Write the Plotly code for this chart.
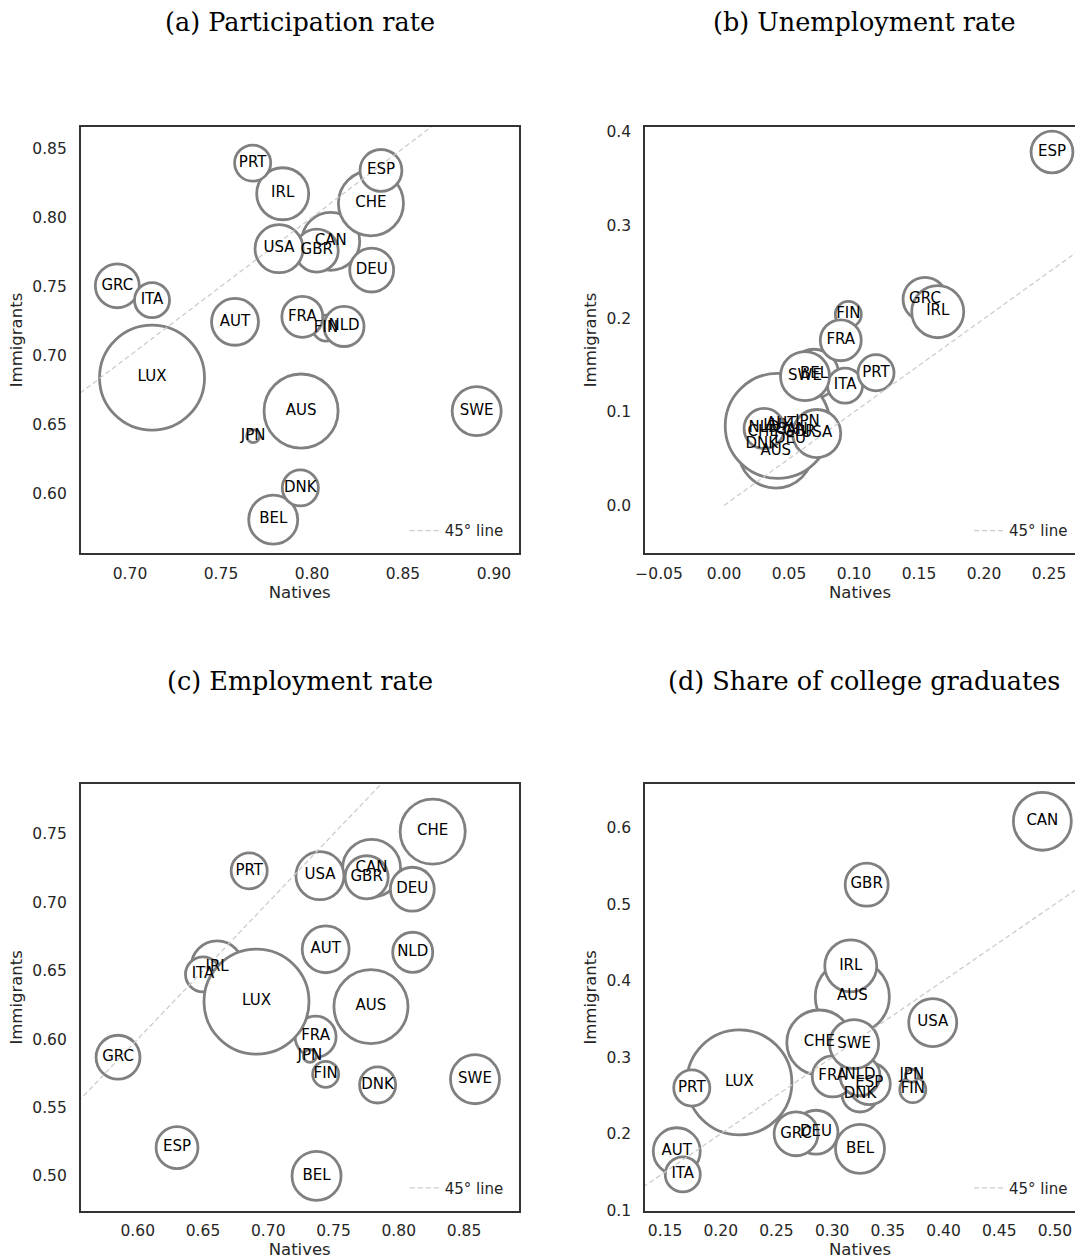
import plotly.graph_objects as go

W, H = 1075, 1259

countries = ["AUS", "AUT", "BEL", "CAN", "CHE", "DEU", "DNK", "ESP", "FIN", "FRA",
             "GBR", "GRC", "IRL", "ITA", "JPN", "LUX", "NLD", "PRT", "SWE", "USA"]

# bubble weight (estimated share of immigrants in population)
immigrant_share = [0.219, 0.088, 0.096, 0.134, 0.169, 0.077, 0.052, 0.070, 0.027, 0.067,
                   0.074, 0.077, 0.108, 0.049, 0.0067, 0.440, 0.064, 0.052, 0.096, 0.092]

# (a) Participation rate
part_natives = [0.794, 0.7577, 0.7787, 0.8103, 0.8324, 0.8328, 0.7936, 0.8379, 0.8077, 0.7947,
                0.8026, 0.6930, 0.7839, 0.7121, 0.7677, 0.7121, 0.8176, 0.7674, 0.8905, 0.7819]
part_immigrants = [0.6596, 0.7243, 0.5809, 0.7826, 0.8102, 0.7618, 0.6039, 0.8340, 0.7197, 0.7279,
                   0.7759, 0.7504, 0.8171, 0.7400, 0.6414, 0.6838, 0.7209, 0.8393, 0.6596, 0.7773]

# (b) Unemployment rate
unemp_natives = [0.0398, 0.0440, 0.0692, 0.0520, 0.0300, 0.0508, 0.0290, 0.2523, 0.0956, 0.0898,
                 0.0580, 0.1546, 0.1644, 0.0931, 0.0642, 0.0413, 0.0308, 0.1169, 0.0623, 0.0713]
unemp_immigrants = [0.0583, 0.0870, 0.1410, 0.0800, 0.0780, 0.0709, 0.0655, 0.3786, 0.2046, 0.1769,
                    0.0780, 0.2208, 0.2075, 0.1284, 0.0892, 0.0852, 0.0824, 0.1421, 0.1385, 0.0770]

# (c) Employment rate
emp_natives = [0.7787, 0.7440, 0.7370, 0.7792, 0.8260, 0.8104, 0.7838, 0.6301, 0.7440, 0.7363,
               0.7754, 0.5849, 0.6608, 0.6500, 0.7319, 0.6910, 0.8107, 0.6854, 0.8584, 0.7396]
emp_immigrants = [0.6238, 0.6657, 0.5000, 0.7249, 0.7517, 0.7096, 0.5665, 0.5207, 0.5743, 0.6018,
                  0.7183, 0.5868, 0.6528, 0.6474, 0.5877, 0.6274, 0.6635, 0.7230, 0.5707, 0.7195]

# (d) Share of college graduates
coll_natives = [0.3181, 0.1605, 0.3250, 0.4887, 0.2885, 0.2855, 0.3250, 0.3334, 0.3724, 0.3005,
                0.3310, 0.2676, 0.3167, 0.1659, 0.3715, 0.2167, 0.3250, 0.1740, 0.3197, 0.3903]
coll_immigrants = [0.3790, 0.1772, 0.1803, 0.6082, 0.3192, 0.2020, 0.2520, 0.2654, 0.2576, 0.2749,
                   0.5254, 0.2000, 0.4194, 0.1469, 0.2758, 0.2671, 0.2758, 0.2598, 0.3171, 0.3452]

titles = ["(a) Participation rate", "(b) Unemployment rate",
          "(c) Employment rate", "(d) Share of college graduates"]

diag = [0, 1]

panels = [
    dict(x=part_natives, y=part_immigrants, xr=[0.6729, 0.9136], yr=[0.5565, 0.8657],
         xt=[0.70, 0.75, 0.80, 0.85, 0.90], yt=[0.60, 0.65, 0.70, 0.75, 0.80, 0.85],
         xf=".2f", yf=".2f", xd=[80.7, 518.7], yd=[126.7, 553.3], right=False),
    dict(x=unemp_natives, y=unemp_immigrants, xr=[-0.0608, 0.2700], yr=[-0.0513, 0.4057],
         xt=[-0.05, 0.0, 0.05, 0.10, 0.15, 0.20, 0.25], yt=[0.0, 0.1, 0.2, 0.3, 0.4],
         xf=".2f", yf=".1f", xd=[645, 1075], yd=[126.7, 553.3], right=True),
    dict(x=emp_natives, y=emp_immigrants, xr=[0.5563, 0.8919], yr=[0.4746, 0.7865],
         xt=[0.60, 0.65, 0.70, 0.75, 0.80, 0.85], yt=[0.50, 0.55, 0.60, 0.65, 0.70, 0.75],
         xf=".2f", yf=".2f", xd=[80.7, 518.7], yd=[784, 1210.7], right=False),
    dict(x=coll_natives, y=coll_immigrants, xr=[0.1320, 0.5180], yr=[0.0995, 0.6569],
         xt=[0.15, 0.20, 0.25, 0.30, 0.35, 0.40, 0.45, 0.50], yt=[0.1, 0.2, 0.3, 0.4, 0.5, 0.6],
         xf=".2f", yf=".1f", xd=[645, 1075], yd=[784, 1210.7], right=True),
]


def px_x(px):
    return px / W


def px_y(py):
    return 1 - py / H


fig = go.Figure()
tick_font = dict(family="DejaVu Sans", size=15.5, color="#262626")
axis_title_font = dict(family="DejaVu Sans", size=16.5, color="#262626")
# plotly area mode: radius = sqrt(v / (2*sizeref)) -> diameter 105px for LUX
sizeref = 2 * 0.440 / 105 ** 2

layout = dict(width=W, height=H, margin=dict(l=0, r=0, t=0, b=0),
              paper_bgcolor="white", plot_bgcolor="white", annotations=[])

for i, p in enumerate(panels):
    n = i + 1
    xa = "x" if n == 1 else f"x{n}"
    ya = "y" if n == 1 else f"y{n}"
    leg = "legend" if n == 1 else f"legend{n}"
    fig.add_trace(go.Scatter(
        x=p["x"], y=p["y"], mode="markers", xaxis=xa, yaxis=ya, showlegend=False,
        marker=dict(size=immigrant_share, sizemode="area", sizeref=sizeref,
                    color="white", opacity=1, line=dict(color="#808080", width=2.8)),
        hoverinfo="skip"))
    fig.add_trace(go.Scatter(
        x=diag, y=diag, mode="lines", xaxis=xa, yaxis=ya, name="45° line",
        line=dict(color="#cccccc", width=1.3, dash="5px,3px"), legend=leg, showlegend=True))
    fig.add_trace(go.Scatter(
        x=p["x"], y=p["y"], mode="text", text=countries, textposition="middle center",
        textfont=dict(family="DejaVu Sans", size=15, color="black"),
        xaxis=xa, yaxis=ya, showlegend=False, hoverinfo="skip"))

    xdom = [px_x(p["xd"][0]), min(1.0, px_x(p["xd"][1]))]
    ydom = [px_y(p["yd"][1]), px_y(p["yd"][0])]
    xkey = "xaxis" if n == 1 else f"xaxis{n}"
    ykey = "yaxis" if n == 1 else f"yaxis{n}"
    layout[xkey] = dict(domain=xdom, range=p["xr"], anchor=ya, tickvals=p["xt"],
                        tickformat=p["xf"], showgrid=False, zeroline=False,
                        showline=True, linecolor="#333333", linewidth=1.6, mirror=True,
                        ticks="outside", ticklen=5, tickcolor="rgba(0,0,0,0)",
                        tickfont=tick_font, automargin=False,
                        title=dict(text="Natives", font=axis_title_font, standoff=4))
    layout[ykey] = dict(domain=ydom, range=p["yr"], anchor=xa, tickvals=p["yt"],
                        tickformat=p["yf"], showgrid=False, zeroline=False,
                        showline=True, linecolor="#333333", linewidth=1.6,
                        mirror=(not p["right"]),
                        ticks="outside", ticklen=9, tickcolor="rgba(0,0,0,0)",
                        tickfont=tick_font, automargin=False,
                        title=dict(text="Immigrants", font=axis_title_font, standoff=6))
    # subplot title, centred over the (full-width) axes
    cx = p["xd"][0] + 438 / 2
    ty = 22 if i < 2 else 681
    layout["annotations"].append(dict(
        text=titles[i], x=px_x(cx), y=px_y(ty), xref="paper", yref="paper",
        xanchor="center", yanchor="middle", showarrow=False,
        font=dict(family="DejaVu Serif", size=25.5, color="black")))
    right_px = p["xd"][0] + 438
    layout[leg] = dict(x=px_x(right_px - 10), xanchor="right",
                       y=px_y(p["yd"][1] - 6), yanchor="bottom",
                       bgcolor="rgba(0,0,0,0)", borderwidth=0,
                       font=dict(family="DejaVu Sans", size=15, color="#262626"),
                       itemwidth=30)

fig.update_layout(**layout)
fig.write_html(
    "out.html",
    config={"displayModeBar": False},
    post_script="document.body.style.margin='0';document.body.style.overflow='hidden';",
)
